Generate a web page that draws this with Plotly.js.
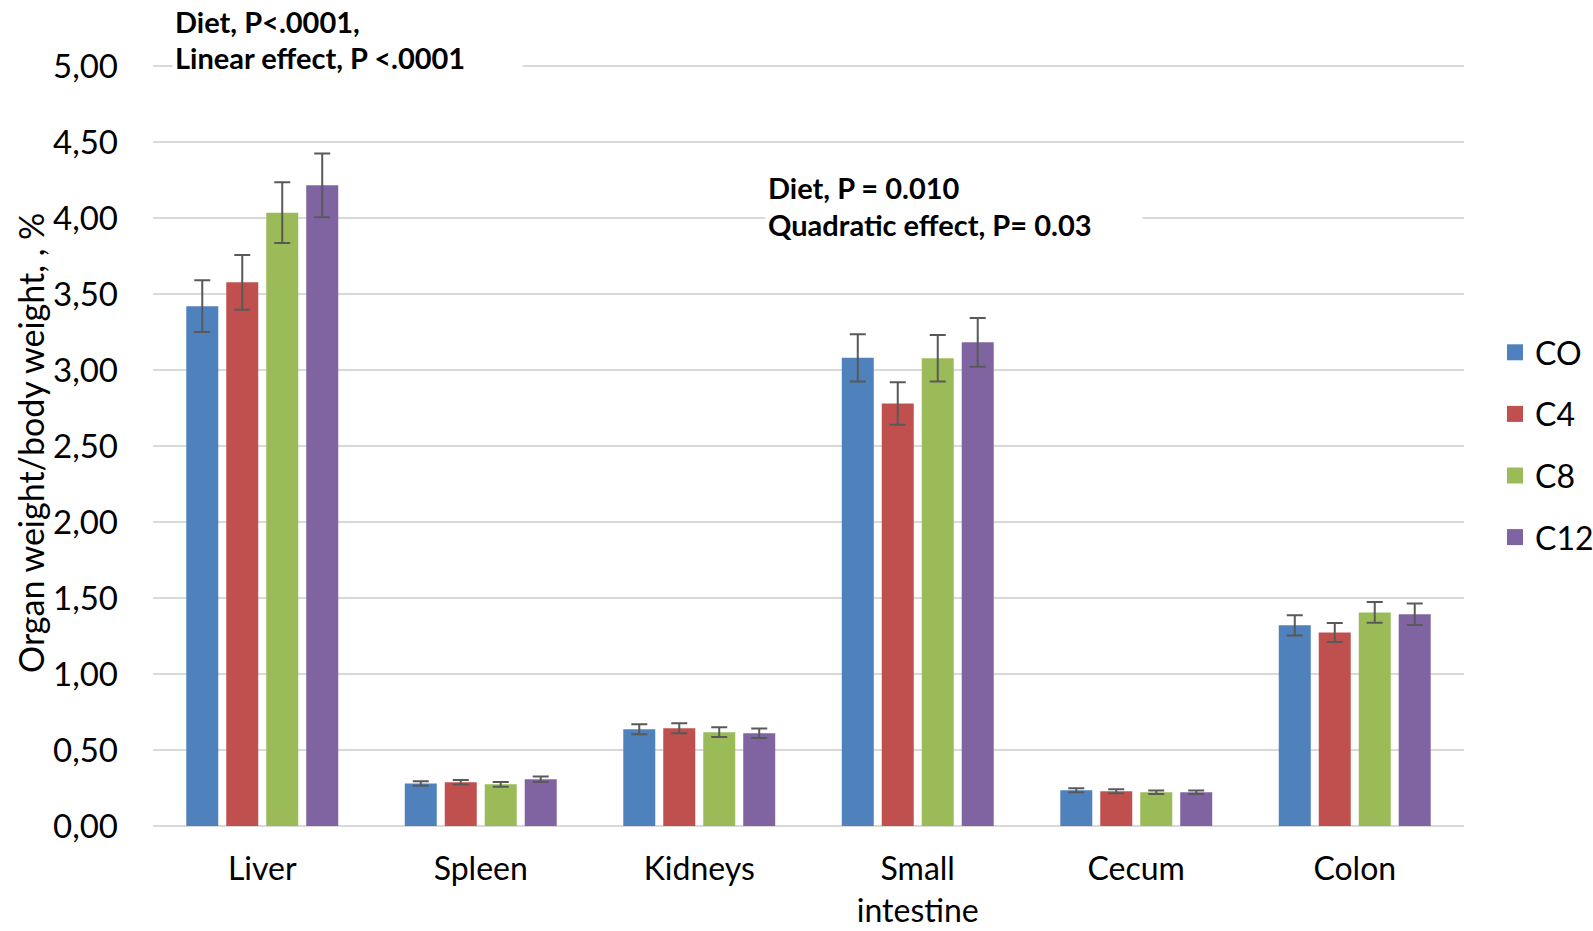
<!DOCTYPE html>
<html>
<head>
<meta charset="utf-8">
<script src="https://cdn.plot.ly/plotly-3.0.1.min.js"></script>
<style>
html,body{margin:0;padding:0;background:#fff;}
#chart{width:1593px;height:931px;}
</style>
</head>
<body>
<div id="chart"></div>
<script>
const categories = ["Liver", "Spleen", "Kidneys", "Small<br>intestine", "Cecum", "Colon"];
const seriesNames = ["CO", "C4", "C8", "C12"];
const seriesColors = ["#4F81BD", "#C0504D", "#9BBB59", "#8064A2"];

const valuesCO  = [3.42, 0.28, 0.636, 3.08, 0.235, 1.32];
const valuesC4  = [3.577, 0.288, 0.643, 2.78, 0.228, 1.273];
const valuesC8  = [4.035, 0.274, 0.617, 3.077, 0.222, 1.405];
const valuesC12 = [4.215, 0.307, 0.61, 3.182, 0.222, 1.393];

const errCO  = [0.17, 0.015, 0.033, 0.155, 0.013, 0.067];
const errC4  = [0.18, 0.015, 0.033, 0.14, 0.013, 0.063];
const errC8  = [0.20, 0.016, 0.032, 0.153, 0.012, 0.068];
const errC12 = [0.21, 0.018, 0.032, 0.16, 0.012, 0.07];

const yTickValues = [0, 0.5, 1, 1.5, 2, 2.5, 3, 3.5, 4, 4.5, 5];
const yRange = [-0.02, 5.02];
const yTitle = "Organ weight/body weight, , %";
const noteLines = [
  "<b>Diet, P<.0001,</b>",
  "<b>Linear effect, P <.0001</b>",
  "<b>Diet, P = 0.010</b>",
  "<b>Quadratic effect, P= 0.03</b>"
];

const allValues = [valuesCO, valuesC4, valuesC8, valuesC12];
const allErrors = [errCO, errC4, errC8, errC12];

const FONT = "Lato, 'Open Sans', 'Noto Sans', sans-serif";

const barTraces = seriesNames.map((name, i) => ({
  type: "bar",
  name: name,
  x: categories,
  y: allValues[i],
  showlegend: false,
  marker: {color: seriesColors[i]},
  error_y: {type: "data", array: allErrors[i], visible: true, color: "#595959", thickness: 2, width: 8}
}));

// legend entries with larger square swatches
const legendTraces = seriesNames.map((name, i) => ({
  type: "scatter",
  mode: "markers",
  name: name,
  x: [null], y: [null],
  legendgroup: name,
  marker: {symbol: "square", size: 22, color: seriesColors[i]},
  hoverinfo: "skip"
}));

// pixel layout of the plotting area
const L = 153, W = 1311, T = 63, H = 766;
const px = p => (p - L) / W;
const py = p => (T + H - p) / H;

function note(text, left, centerY, width) {
  return {
    xref: "paper", yref: "paper",
    x: px(left), y: py(centerY),
    xanchor: "left", yanchor: "middle",
    text: text, showarrow: false, align: "left",
    width: width, bgcolor: "#ffffff", borderpad: 2,
    font: {family: FONT, size: 29, color: "#000000"}
  };
}

const layout = {
  width: 1593, height: 931,
  margin: {l: L, r: 1593 - L - W, t: T, b: 931 - T - H, autoexpand: false},
  paper_bgcolor: "#ffffff", plot_bgcolor: "#ffffff",
  separators: ", ",
  font: {family: FONT, size: 33, color: "#000000"},
  barmode: "group",
  bargap: 0.268,
  bargroupgap: 0.2,
  showlegend: true,
  legend: {
    x: px(1495), xanchor: "left", y: py(445), yanchor: "middle",
    font: {family: FONT, size: 32, color: "#000000"},
    tracegroupgap: 17, bgcolor: "rgba(0,0,0,0)", itemsizing: "trace"
  },
  xaxis: {
    type: "category",
    showgrid: false, zeroline: false, showline: false,
    ticks: "", ticklabelstandoff: 18,
    tickfont: {family: FONT, size: 32, color: "#000000"}
  },
  yaxis: {
    range: yRange, tickvals: yTickValues, tickformat: ".2f",
    showgrid: true, gridcolor: "#d9d9d9", gridwidth: 2,
    zeroline: false, showline: false, ticks: "", ticklabelstandoff: 34,
    tickfont: {family: FONT, size: 33, color: "#000000"},
    automargin: false
  },
  annotations: [
    {
      xref: "paper", yref: "paper", x: px(30), y: py(443),
      xanchor: "center", yanchor: "middle", textangle: -90,
      text: yTitle, showarrow: false,
      font: {family: FONT, size: 34, color: "#000000"}
    },
    note(noteLines[0], 172, 21, 345),
    note(noteLines[1], 172, 58, 345),
    note(noteLines[2], 765, 187, 372),
    note(noteLines[3], 765, 225, 372)
  ]
};

Plotly.newPlot("chart", barTraces.concat(legendTraces), layout, {displayModeBar: false, responsive: false});
</script>
</body>
</html>
